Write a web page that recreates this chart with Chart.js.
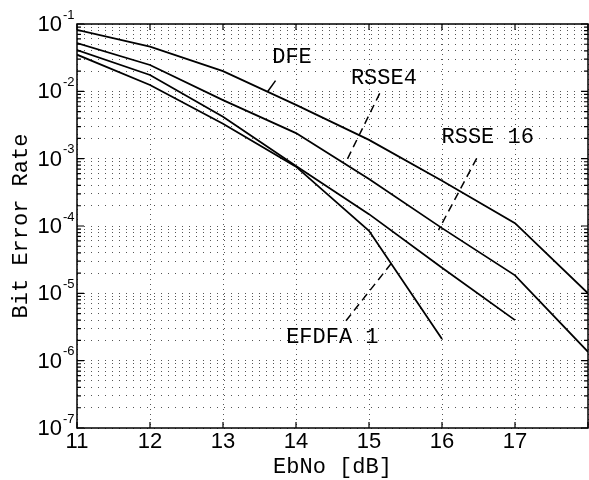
<!DOCTYPE html>
<html>
<head>
<meta charset="utf-8">
<script src="https://cdn.jsdelivr.net/npm/chart.js@4.4.1/dist/chart.umd.min.js"></script>
<style>
  html, body { margin: 0; padding: 0; background: #fff; }
  #wrap { width: 589px; height: 480px; position: relative; }
</style>
</head>
<body>
<div id="wrap"><canvas id="berChart"></canvas></div>
<script>
// EbNo points (dB)
var ebno = [11, 12, 13, 14, 15, 16, 17, 18];

// bit error rate
var dfe    = [0.082, 0.046, 0.020, 0.0063, 0.0019, 4.7e-4, 1.1e-4, 1.0e-5];
var rsse4  = [0.052, 0.0246, 0.0074, 0.0024, 5.0e-4, 9.3e-5, 1.85e-5, 1.35e-6];
var rsse16 = [0.041, 0.0175, 0.0042, 7.8e-4, 1.5e-4, 2.4e-5, 4.0e-6];
var efdfa1 = [0.035, 0.0124, 0.0033, 7.6e-4, 8.5e-5, 2.1e-6];

var xTicks = [11, 12, 13, 14, 15, 16, 17, 18];
var yExps = [-7, -6, -5, -4, -3, -2, -1];

// curve labels: [text, x, y] in data units
var curveLabels = [
  ['DFE', 13.674, 0.0324],
  ['RSSE4', 14.752, 0.0158],
  ['RSSE 16', 15.993, 0.00209],
  ['EFDFA 1', 13.865, 2.2e-6]
];
// leader lines: [x1, y1, x2, y2, dashed]
var leaders = [
  [13.61, 9.86e-3, 13.72, 0.0144, false],
  [15.147, 9.33e-3, 14.670, 8.3e-4, true],
  [16.475, 1.01e-3, 15.952, 8.7e-5, true],
  [15.304, 2.78e-5, 14.656, 3.57e-6, true]
];

function pts(ys) {
  return ys.map(function (v, i) { return { x: ebno[i], y: v }; });
}

function curve(name, ys) {
  return {
    label: name,
    data: pts(ys),
    borderColor: '#000',
    borderWidth: 1.8,
    pointRadius: 0,
    fill: false,
    tension: 0
  };
}

var decor = {
  id: 'decor',
  afterDraw: function (chart) {
    var c = chart.ctx, a = chart.chartArea;
    var xs = chart.scales.x, ys = chart.scales.y;
    c.save();
    c.strokeStyle = '#000';
    c.lineWidth = 1.5;
    c.strokeRect(a.left, a.top, a.right - a.left, a.bottom - a.top);

    // inward ticks
    c.lineWidth = 1.2;
    c.beginPath();
    xTicks.forEach(function (t) {
      var px = xs.getPixelForValue(t);
      c.moveTo(px, a.bottom); c.lineTo(px, a.bottom - 6);
      c.moveTo(px, a.top); c.lineTo(px, a.top + 6);
    });
    ys.ticks.forEach(function (t) {
      var py = ys.getPixelForValue(t.value);
      var len = t.major ? 7 : 4;
      c.moveTo(a.left, py); c.lineTo(a.left + len, py);
      c.moveTo(a.right, py); c.lineTo(a.right - len, py);
    });
    c.stroke();

    // y tick labels 10^n
    c.fillStyle = '#000';
    yExps.forEach(function (e) {
      var py = ys.getPixelForValue(Math.pow(10, e));
      c.font = '22px "Liberation Sans", Arial, sans-serif';
      c.textAlign = 'right';
      c.textBaseline = 'middle';
      c.fillText('10', 62, py + 1);
      c.font = '13px "Liberation Sans", Arial, sans-serif';
      c.textAlign = 'left';
      c.fillText(String(e), 63, py - 9);
    });

    // leader lines
    c.lineWidth = 1.5;
    leaders.forEach(function (l) {
      c.setLineDash(l[4] ? [8, 5] : []);
      c.beginPath();
      c.moveTo(xs.getPixelForValue(l[0]), ys.getPixelForValue(l[1]));
      c.lineTo(xs.getPixelForValue(l[2]), ys.getPixelForValue(l[3]));
      c.stroke();
    });
    c.setLineDash([]);

    // curve names
    c.font = '22px "Liberation Mono", "Courier New", monospace';
    c.textAlign = 'left';
    c.textBaseline = 'middle';
    curveLabels.forEach(function (l) {
      c.fillText(l[0], xs.getPixelForValue(l[1]), ys.getPixelForValue(l[2]));
    });
    c.restore();
  }
};

var ctx = document.getElementById('berChart');

var berChart = new Chart(ctx, {
  type: 'line',
  data: {
    datasets: [
      curve('DFE', dfe),
      curve('RSSE4', rsse4),
      curve('RSSE 16', rsse16),
      curve('EFDFA 1', efdfa1)
    ]
  },
  options: {
    responsive: true,
    maintainAspectRatio: false,
    animation: false,
    layout: { padding: { top: 24, left: 0, right: -2, bottom: 0 } },
    plugins: {
      legend: { display: false },
      tooltip: { enabled: false }
    },
    scales: {
      x: {
        type: 'linear',
        min: 11,
        max: 18,
        afterBuildTicks: function (scale) {
          scale.ticks = xTicks.map(function (v) { return { value: v }; });
        },
        afterFit: function (scale) { scale.height = 52; },
        ticks: {
          color: '#000',
          padding: 1,
          maxRotation: 0,
          font: { family: '"Liberation Sans", Arial, sans-serif', size: 22 },
          callback: function (v) { return v === 18 ? '' : String(v); }
        },
        grid: { color: '#555', lineWidth: 1, drawTicks: false },
        border: { display: false, dash: [1, 4] },
        title: {
          display: true,
          text: 'EbNo [dB]',
          color: '#000',
          padding: { top: 0, bottom: 0 },
          font: { family: '"Liberation Mono", "Courier New", monospace', size: 22 }
        }
      },
      y: {
        type: 'logarithmic',
        min: 1e-7,
        max: 1e-1,
        afterBuildTicks: function (scale) {
          var t = [];
          yExps.forEach(function (e) {
            for (var k = 1; k <= 9; k++) {
              if (e === -1 && k > 1) break;
              t.push({ value: k * Math.pow(10, e), major: k === 1 });
            }
          });
          scale.ticks = t;
        },
        afterFit: function (scale) { scale.width = 77; },
        ticks: { display: false },
        grid: { color: '#555', lineWidth: 1, drawTicks: false },
        border: { display: false, dash: [1, 6] },
        title: {
          display: true,
          text: 'Bit Error Rate',
          color: '#000',
          padding: { top: 8, bottom: 0 },
          font: { family: '"Liberation Mono", "Courier New", monospace', size: 22 }
        }
      }
    }
  },
  plugins: [decor]
});
</script>
</body>
</html>
